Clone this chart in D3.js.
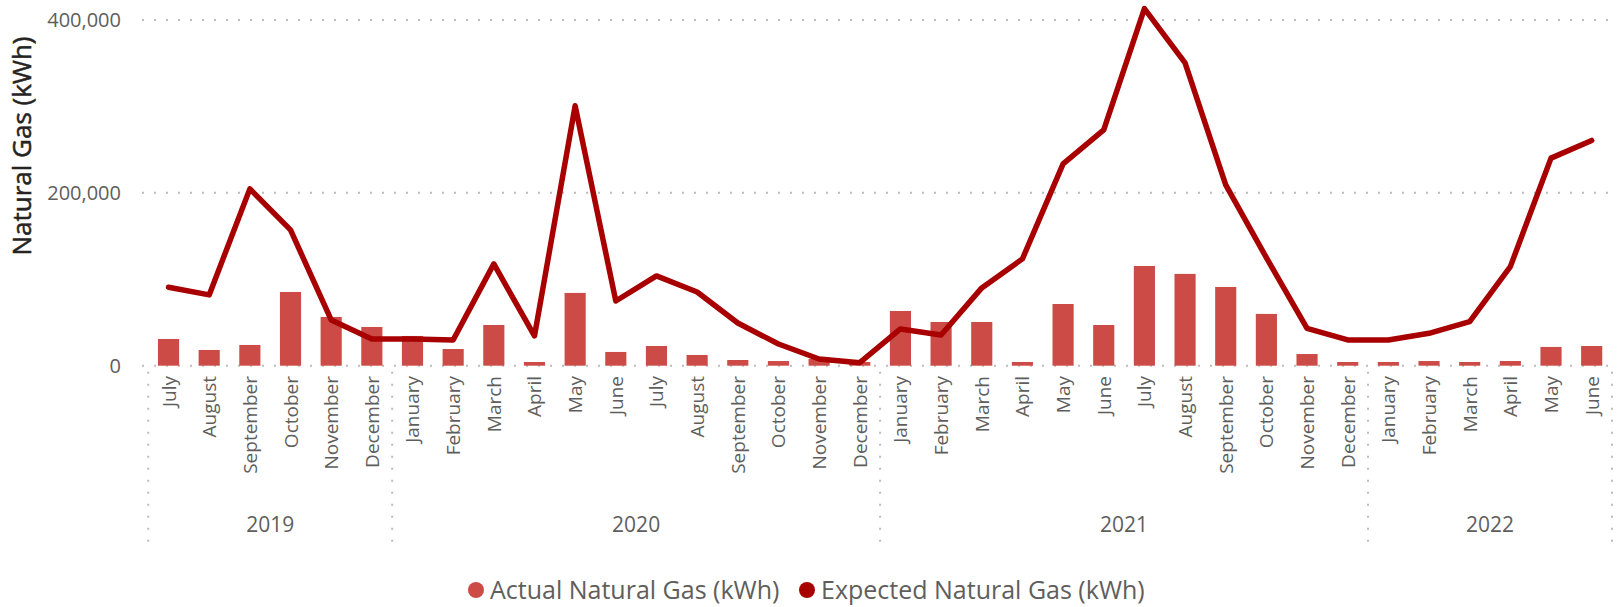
<!DOCTYPE html>
<html>
<head>
    <title>Natural Gas</title>
    <script src="https://d3js.org/d3.v7.min.js"></script>
    <style>
        body { margin: 0; background: #fff; }
        text { font-family: "Segoe UI", "Open Sans", sans-serif; }
    </style>
</head>
<body>
    <svg width="1623" height="607"></svg>

    <script>
        // Months, July 2019 to June 2022
        var months = ["July", "August", "September", "October", "November", "December",
            "January", "February", "March", "April", "May", "June",
            "July", "August", "September", "October", "November", "December",
            "January", "February", "March", "April", "May", "June",
            "July", "August", "September", "October", "November", "December",
            "January", "February", "March", "April", "May", "June"];
        var years = ["2019", "2019", "2019", "2019", "2019", "2019",
            "2020", "2020", "2020", "2020", "2020", "2020",
            "2020", "2020", "2020", "2020", "2020", "2020",
            "2021", "2021", "2021", "2021", "2021", "2021",
            "2021", "2021", "2021", "2021", "2021", "2021",
            "2022", "2022", "2022", "2022", "2022", "2022"];

        var actual = [30900, 18200, 24000, 85300, 56400, 44800,
            34400, 19300, 47100, 4300, 84200, 15900,
            22800, 12400, 6600, 5400, 7800, 4300,
            63300, 50600, 50600, 4300, 71400, 47100,
            115400, 106200, 91100, 59900, 13500, 4300,
            4300, 5400, 4300, 5400, 21700, 22800];

        var expected = [90800, 81900, 204600, 157100, 52900, 30900,
            30900, 29800, 117800, 34400, 300700, 74900,
            103900, 85300, 49400, 25100, 7800, 3500,
            42500, 35500, 90000, 123600, 233600, 272900,
            413100, 350500, 209300, 125000, 43300, 29800,
            29800, 37500, 51000, 114600, 240200, 260600];

        var yTicks = [0, 200000, 400000];
        var seriesNames = ["Actual Natural Gas (kWh)", "Expected Natural Gas (kWh)"];

        var barColor = "#CD4B46", lineColor = "#A80000", gray = "#605E5C";

        var plotLeft = 148.2, plotRight = 1612, plotTop = 20, plotBottom = 365.7;

        var svg = d3.select("svg");

        var idx = d3.range(months.length);
        var x = d3.scaleBand().domain(idx).range([plotLeft, plotRight]).paddingInner(0.48).paddingOuter(0.24);
        var y = d3.scaleLinear().domain([0, 400000]).range([plotBottom, plotTop]);

        // Gridlines
        svg.append("g").selectAll("line")
            .data(yTicks).join("line")
            .attr("x1", 142).attr("x2", plotRight)
            .attr("y1", function(d) { return y(d); })
            .attr("y2", function(d) { return y(d); })
            .attr("stroke", "#BEBCBA").attr("stroke-width", 2)
            .attr("stroke-dasharray", "2,10");

        // Y axis labels
        var yAxis = svg.append("g")
            .attr("transform", "translate(121,0)")
            .call(d3.axisLeft(y).tickValues(yTicks).tickSize(0).tickPadding(0).tickFormat(d3.format(",")));
        yAxis.select(".domain").remove();
        yAxis.selectAll("text")
            .attr("fill", gray).style("font-size", "20px")
            .style("font-family", "'Segoe UI', 'Open Sans', sans-serif");

        // Y title
        svg.append("text")
            .attr("transform", "translate(31,146) rotate(-90)")
            .attr("text-anchor", "middle")
            .attr("fill", "#252423")
            .attr("stroke", "#252423").attr("stroke-width", 0.5)
            .style("font-size", "26px")
            .text("Natural Gas (kWh)");

        // Bars
        svg.append("g").selectAll("rect")
            .data(idx).join("rect")
            .attr("x", function(i) { return x(i); })
            .attr("width", x.bandwidth())
            .attr("y", function(i) { return y(actual[i]); })
            .attr("height", function(i) { return y(0) - y(actual[i]); })
            .attr("fill", barColor);

        // Line
        var line = d3.line()
            .x(function(i) { return x(i) + x.bandwidth() / 2; })
            .y(function(i) { return y(expected[i]); });
        svg.append("path")
            .datum(idx)
            .attr("d", line)
            .attr("fill", "none")
            .attr("stroke", lineColor)
            .attr("stroke-width", 5.5)
            .attr("stroke-linejoin", "round")
            .attr("stroke-linecap", "round");

        // Month labels
        var step = x.step();
        svg.append("g").selectAll("text")
            .data(idx).join("text")
            .attr("transform", function(i) {
                return "translate(" + (plotLeft + step * (i + 0.5) + 7) + ",376) rotate(-90)";
            })
            .attr("text-anchor", "end")
            .attr("fill", gray)
            .style("font-size", "19px")
            .text(function(i) { return months[i]; });

        // Year groups
        var groups = [];
        idx.forEach(function(i) {
            var last = groups[groups.length - 1];
            if (last && last.year === years[i]) last.end = i + 1;
            else groups.push({year: years[i], start: i, end: i + 1});
        });
        var seps = [0].concat(groups.map(function(g) { return g.end; }));
        svg.append("g").selectAll("line")
            .data(seps).join("line")
            .attr("x1", function(i) { return plotLeft + step * i; })
            .attr("x2", function(i) { return plotLeft + step * i; })
            .attr("y1", plotBottom + 6).attr("y2", 543)
            .attr("stroke", "#BEBCBA").attr("stroke-width", 2)
            .attr("stroke-dasharray", "2,10");
        svg.append("g").selectAll("text")
            .data(groups).join("text")
            .attr("x", function(g) { return plotLeft + step * (g.start + g.end) / 2; })
            .attr("y", 532)
            .attr("text-anchor", "middle")
            .attr("fill", gray)
            .style("font-size", "21px")
            .text(function(g) { return g.year; });

        // Legend
        var legend = svg.append("g");
        var lx = [476, 807];
        seriesNames.forEach(function(name, k) {
            legend.append("circle")
                .attr("cx", lx[k]).attr("cy", 590).attr("r", 8)
                .attr("fill", k === 0 ? barColor : lineColor);
            legend.append("text")
                .attr("x", lx[k] + 14).attr("y", 599)
                .attr("fill", gray)
                .style("font-size", "25px")
                .text(name);
        });
    </script>
</body>
</html>
